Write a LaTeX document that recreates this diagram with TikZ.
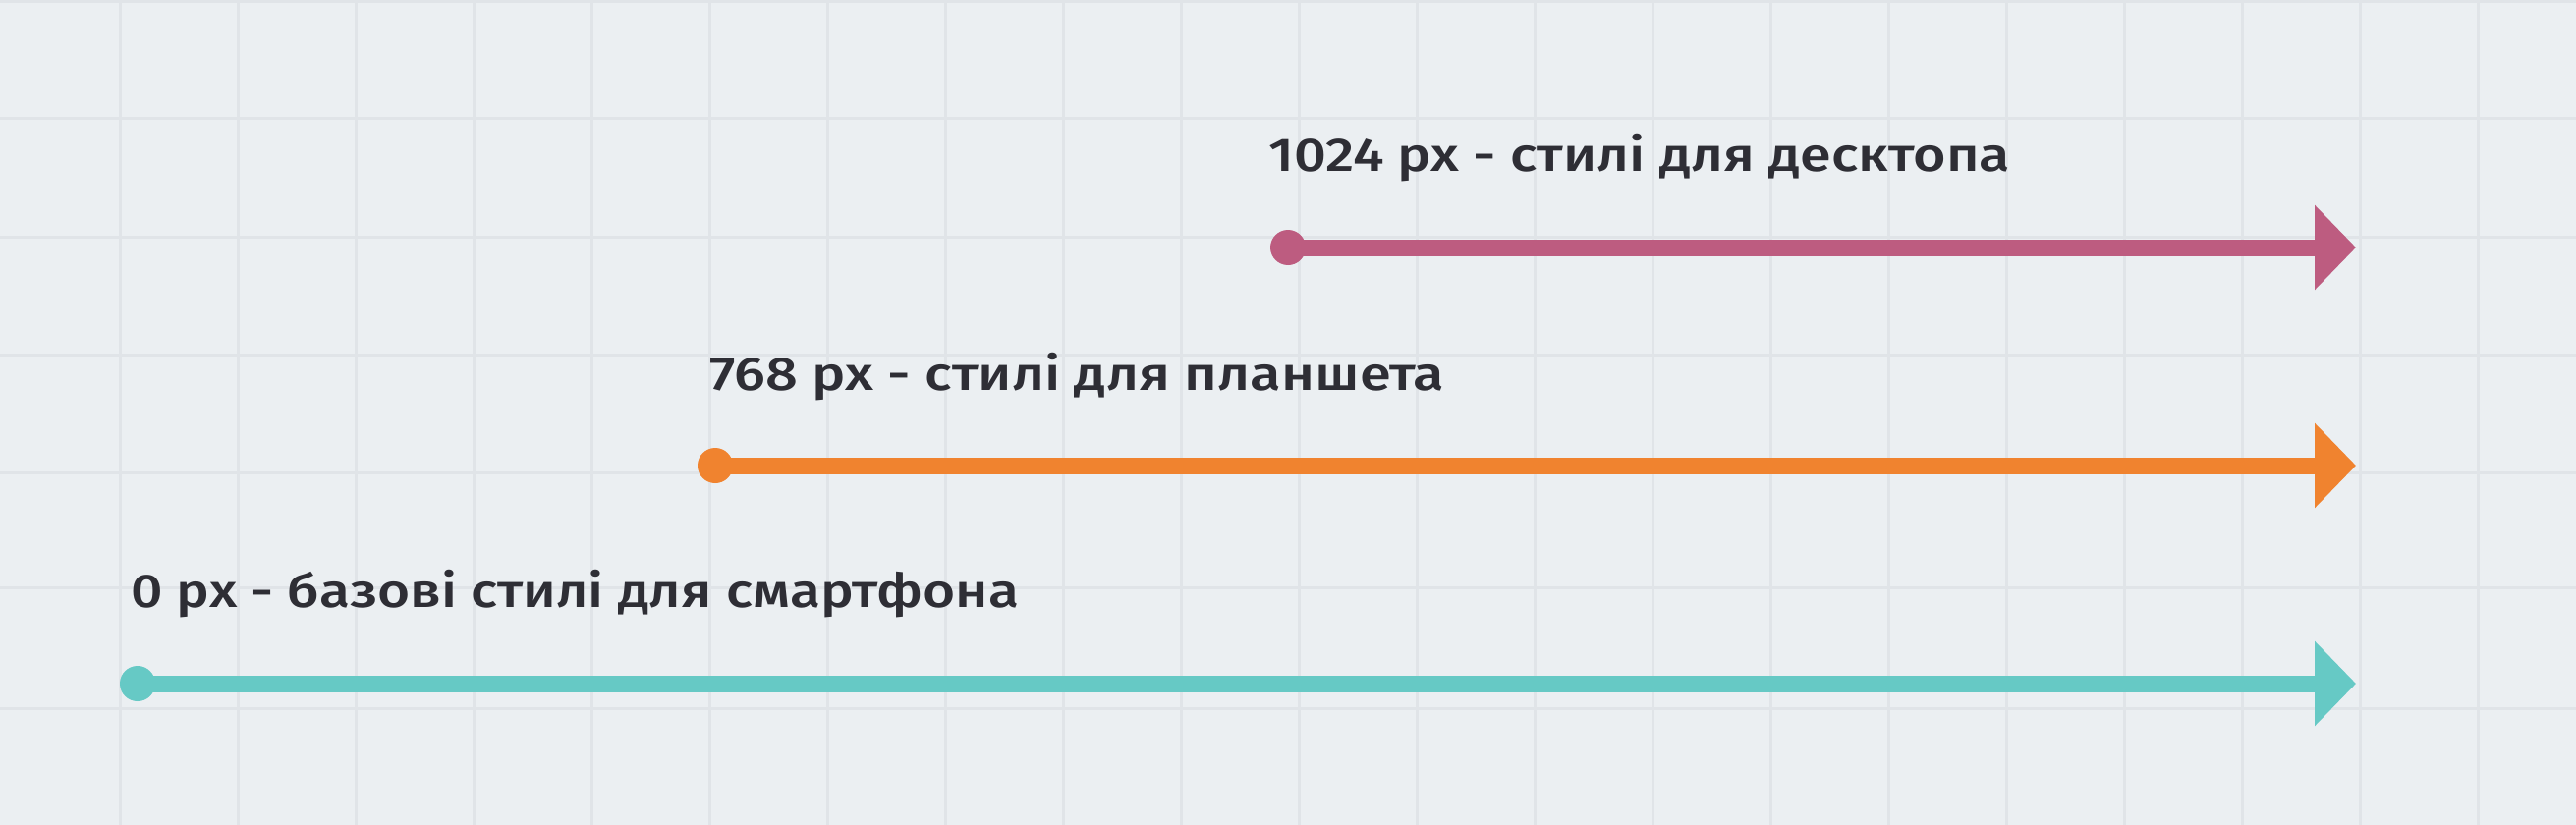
\documentclass[tikz,border=0pt]{standalone}
\usepackage{fontspec}
\usepackage{graphicx}
\usetikzlibrary{arrows.meta}
\newfontfamily\lblfont{Fira Sans Medium}
\definecolor{bgc}{HTML}{EBEFF2}
\definecolor{gridc}{HTML}{E0E4E8}
\definecolor{txtc}{HTML}{2E2E35}
\definecolor{pinkc}{HTML}{BD5C80}
\definecolor{orangec}{HTML}{F0832F}
\definecolor{tealc}{HTML}{66C9C5}
\begin{document}
\begin{tikzpicture}[x=1pt,y=-1pt,
  gridline/.style={draw=gridc,line width=3pt},
  lbl/.style={font=\lblfont\fontsize{48pt}{56pt}\selectfont,text=txtc,inner sep=0pt,anchor=base west},
  dot/.style={circle,minimum size=36pt,inner sep=0pt,draw=none},
  shaft/.style={line width=17pt,-{Triangle[length=42pt,width=84pt]}}]
\fill[bgc] (0,0) rectangle (2622,840);
\useasboundingbox (0,0) rectangle (2622,840);
\foreach \k in {1,...,21} \draw[gridline] ({120*\k+2},0) -- ({120*\k+2},840);
\foreach \yy in {1.5,120.5,241,361,481,598,721} \draw[gridline] (0,\yy) -- (2622,\yy);
% labels
\node[lbl] (tpink) at (1291,174) {\resizebox{755pt}{\height}{1024 px - стилі для десктопа}};
\node[lbl] (torange) at (722,397) {\resizebox{748pt}{\height}{768 px - стилі для планшета}};
\node[lbl] (tteal) at (133,618) {\resizebox{904pt}{\height}{0 px - базові стилі для смартфона}};
% dots and ends
\node[dot,fill=pinkc] (dpink) at (1311,252) {};
\node[dot,fill=orangec] (dorange) at (728,474) {};
\node[dot,fill=tealc] (dteal) at (140,696) {};
\coordinate (epink) at (2398,252);
\coordinate (eorange) at (2398,474);
\coordinate (eteal) at (2398,696);
% arrows
\draw[shaft,pinkc] (dpink.center) -- (epink);
\draw[shaft,orangec] (dorange.center) -- (eorange);
\draw[shaft,tealc] (dteal.center) -- (eteal);
\end{tikzpicture}
\end{document}
